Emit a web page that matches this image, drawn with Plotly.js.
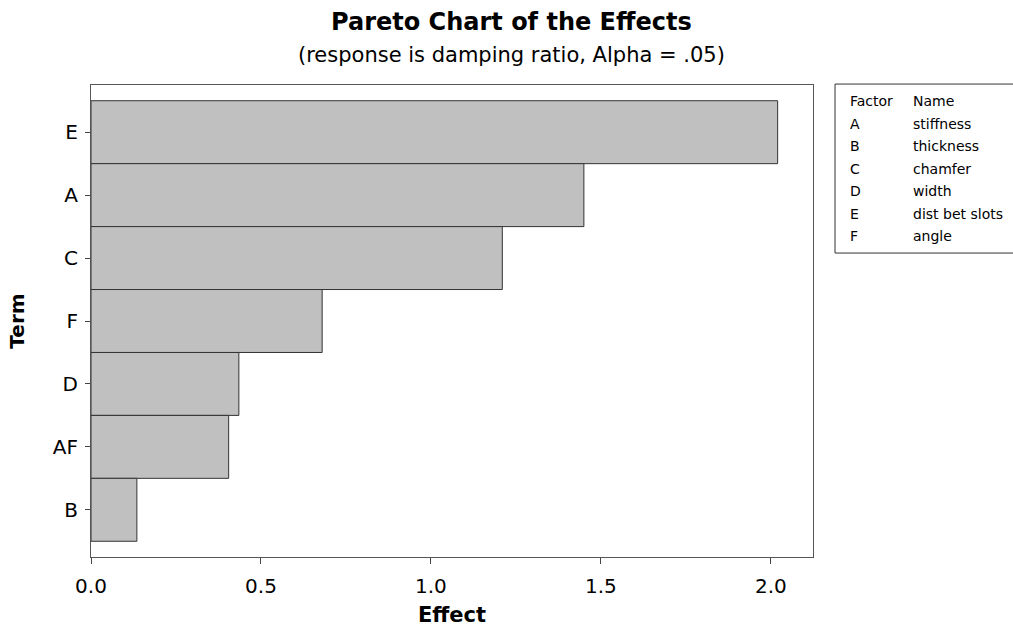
<!DOCTYPE html>
<html>
<head>
<meta charset="utf-8">
<script src="https://cdn.plot.ly/plotly-3.0.1.min.js"></script>
<style>html,body{margin:0;padding:0;background:#fff;}#chart{width:1013px;height:627px;}</style>
</head>
<body>
<div id="chart"></div>
<script>
// Terms (top to bottom) and their absolute effects
const terms = ["E", "A", "C", "F", "D", "AF", "B"];
const effects = [2.02, 1.45, 1.21, 0.68, 0.435, 0.405, 0.135];
// Legend table
const factorCodes = ["A", "B", "C", "D", "E", "F"];
const factorNames = ["stiffness", "thickness", "chamfer", "width", "dist bet slots", "angle"];
const xTicks = [0, 0.5, 1.0, 1.5, 2.0];
const xTickText = ["0.0", "0.5", "1.0", "1.5", "2.0"];

const FONT = "DejaVu Sans, Verdana, sans-serif";

const trace = {
  type: "bar",
  orientation: "h",
  x: effects,
  y: terms,
  marker: {color: "#c0c0c0", line: {color: "#333333", width: 1}},
  hoverinfo: "x+y"
};

const tableFont = {family: FONT, size: 14, color: "#000"};
const annotations = [];
const x0 = 1.0485, x1 = 1.1357;
const rowTop = 0.966, rowStep = 0.0477;
annotations.push({xref: "paper", yref: "paper", x: x0, y: rowTop, text: "Factor", showarrow: false, xanchor: "left", yanchor: "middle", font: tableFont});
annotations.push({xref: "paper", yref: "paper", x: x1, y: rowTop, text: "Name", showarrow: false, xanchor: "left", yanchor: "middle", font: tableFont});
factorCodes.forEach((c, i) => {
  annotations.push({xref: "paper", yref: "paper", x: x0, y: rowTop - (i + 1) * rowStep, text: c, showarrow: false, xanchor: "left", yanchor: "middle", font: tableFont});
  annotations.push({xref: "paper", yref: "paper", x: x1, y: rowTop - (i + 1) * rowStep, text: factorNames[i], showarrow: false, xanchor: "left", yanchor: "middle", font: tableFont});
});
// Title and subtitle
annotations.push({xref: "paper", yref: "paper", x: 0.582, y: 1, yshift: 63, text: "<b>Pareto Chart of the Effects</b>", showarrow: false, xanchor: "center", yanchor: "middle",
  font: {family: FONT, size: 24, color: "#000"}});
annotations.push({xref: "paper", yref: "paper", x: 0.582, y: 1, yshift: 30, text: "(response is damping ratio, Alpha = .05)", showarrow: false, xanchor: "center", yanchor: "middle",
  font: {family: FONT, size: 21, color: "#000"}});

const layout = {
  width: 1013, height: 627,
  margin: {l: 91, r: 200, t: 85, b: 70, pad: 0},
  paper_bgcolor: "#fff", plot_bgcolor: "#fff",
  bargap: 0,
  showlegend: false,
  font: {family: FONT, color: "#000"},
  xaxis: {
    range: [0, 2.124], tickvals: xTicks, ticktext: xTickText,
    ticks: "outside", ticklen: 6, tickcolor: "#444", tickwidth: 1,
    ticklabelstandoff: 5,
    showgrid: false, zeroline: false, automargin: false,
    showline: true, linecolor: "#555", linewidth: 1, mirror: true,
    tickfont: {family: FONT, size: 20, color: "#000"},
    title: {text: "<b>Effect</b>", font: {family: FONT, size: 21, color: "#000"}, standoff: 10}
  },
  yaxis: {
    type: "category", categoryorder: "array", categoryarray: terms,
    autorange: false, range: [6.75, -0.75],
    ticks: "outside", ticklen: 5, tickcolor: "#444", tickwidth: 1,
    ticklabelstandoff: 3,
    showgrid: false, zeroline: false, automargin: false,
    showline: true, linecolor: "#555", linewidth: 1, mirror: true,
    tickfont: {family: FONT, size: 20, color: "#000"},
    title: {text: "<b>Term</b>", font: {family: FONT, size: 20, color: "#000"}, standoff: 22}
  },
  shapes: [{
    type: "rect", xref: "paper", yref: "paper",
    x0: 1.0305, x1: 1.3, y0: 0.644, y1: 1.002,
    line: {color: "#333", width: 1}, fillcolor: "rgba(0,0,0,0)"
  }],
  annotations: annotations
};

Plotly.newPlot("chart", [trace], layout, {displayModeBar: false, staticPlot: true});
</script>
</body>
</html>
